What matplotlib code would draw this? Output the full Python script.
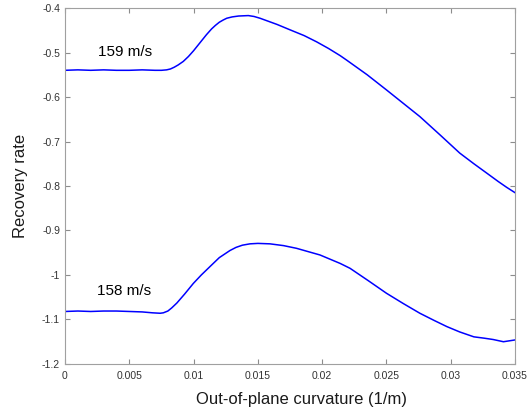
import numpy as np
import matplotlib
matplotlib.use("Agg")
import matplotlib.pyplot as plt

plt.rcParams['font.family'] = ['Liberation Sans', 'DejaVu Sans']

# Recovery rate against out-of-plane curvature, two inflow speeds
curv_159 = [0.0, 0.001, 0.002, 0.003, 0.004, 0.005, 0.006, 0.007, 0.0075,
            0.0079, 0.0082, 0.0085, 0.0088, 0.0092, 0.0096, 0.0100, 0.0105,
            0.0110, 0.0114, 0.0117, 0.0120, 0.0123, 0.01258, 0.0130, 0.0135,
            0.01426, 0.0147, 0.01517, 0.0165, 0.0175, 0.0186, 0.01957, 0.0205,
            0.0214, 0.0219, 0.0235, 0.0250, 0.0263, 0.0276, 0.0292, 0.0307,
            0.0318, 0.0328, 0.0337, 0.03435, 0.035]
rate_159 = [-0.540, -0.539, -0.540, -0.539, -0.540, -0.540, -0.539, -0.540, -0.540,
            -0.539, -0.537, -0.533, -0.528, -0.520, -0.509, -0.496, -0.478,
            -0.460, -0.447, -0.439, -0.432, -0.427, -0.423, -0.420, -0.418,
            -0.417, -0.419, -0.423, -0.437, -0.449, -0.462, -0.476, -0.491,
            -0.507, -0.517, -0.550, -0.584, -0.614, -0.644, -0.686, -0.726,
            -0.750, -0.771, -0.790, -0.803, -0.815]

curv_158 = [0.0, 0.001, 0.002, 0.003, 0.004, 0.005, 0.006, 0.0068, 0.0074,
            0.00765, 0.0080, 0.0083, 0.0087, 0.0093, 0.00998, 0.0106, 0.01128,
            0.0120, 0.01283, 0.0133, 0.0138, 0.01439, 0.0150, 0.01594, 0.0170,
            0.0180, 0.01983, 0.0214, 0.02217, 0.0236, 0.0250, 0.0263, 0.0276,
            0.0287, 0.0297, 0.0307, 0.0318, 0.0326, 0.0333, 0.0341, 0.035]
rate_158 = [-1.082, -1.081, -1.082, -1.081, -1.081, -1.082, -1.083, -1.085, -1.086,
            -1.085, -1.081, -1.074, -1.063, -1.043, -1.019, -1.000, -0.981,
            -0.961, -0.945, -0.938, -0.933, -0.930, -0.929, -0.930, -0.934,
            -0.940, -0.955, -0.974, -0.985, -1.013, -1.041, -1.064, -1.086,
            -1.102, -1.116, -1.128, -1.139, -1.142, -1.145, -1.150, -1.146]

xticks = [0, 0.005, 0.01, 0.015, 0.02, 0.025, 0.03, 0.035]
xtick_labels = ['0', '0.005', '0.01', '0.015', '0.02', '0.025', '0.03', '0.035']
yticks = [-1.2, -1.1, -1.0, -0.9, -0.8, -0.7, -0.6, -0.5, -0.4]
ytick_labels = ['-1.2', '-1.1', '-1', '-0.9', '-0.8', '-0.7', '-0.6', '-0.5', '-0.4']

fig = plt.figure(figsize=(5.28, 4.11), dpi=100)
ax = fig.add_axes([0.1231, 0.1144, 0.8523, 0.8661])

ax.plot(curv_159, rate_159, color=(0, 0, 1), linewidth=1.1)
ax.plot(curv_158, rate_158, color=(0, 0, 1), linewidth=1.1)

ax.text(0.00257, -0.499, '159 m/s', fontsize=11, va='center', ha='left')
ax.text(0.00250, -1.035, '158 m/s', fontsize=11, va='center', ha='left')

ax.set_xlim(0, 0.035)
ax.set_ylim(-1.2, -0.4)
ax.set_xticks(xticks)
ax.set_xticklabels(xtick_labels)
ax.set_yticks(yticks)
ax.set_yticklabels(ytick_labels)

# box with inward ticks on every side
for s in ax.spines.values():
    s.set_color('#a0a0a0')
    s.set_linewidth(0.8)
ax.tick_params(direction='in', length=3.5, width=0.8, color='#8c8c8c',
               labelsize=7.5, labelcolor='#333333', top=True, right=True)
ax.tick_params(axis='x', pad=5)
ax.tick_params(axis='y', pad=3.5)

ax.set_xlabel('Out-of-plane curvature (1/m)', fontsize=12, color='#1a1a1a')
ax.set_ylabel('Recovery rate', fontsize=12, color='#1a1a1a')
ax.xaxis.set_label_coords(0.525, -0.078)
ax.yaxis.set_label_coords(-0.083, 0.5)

fig.savefig('out.png', dpi=100)
